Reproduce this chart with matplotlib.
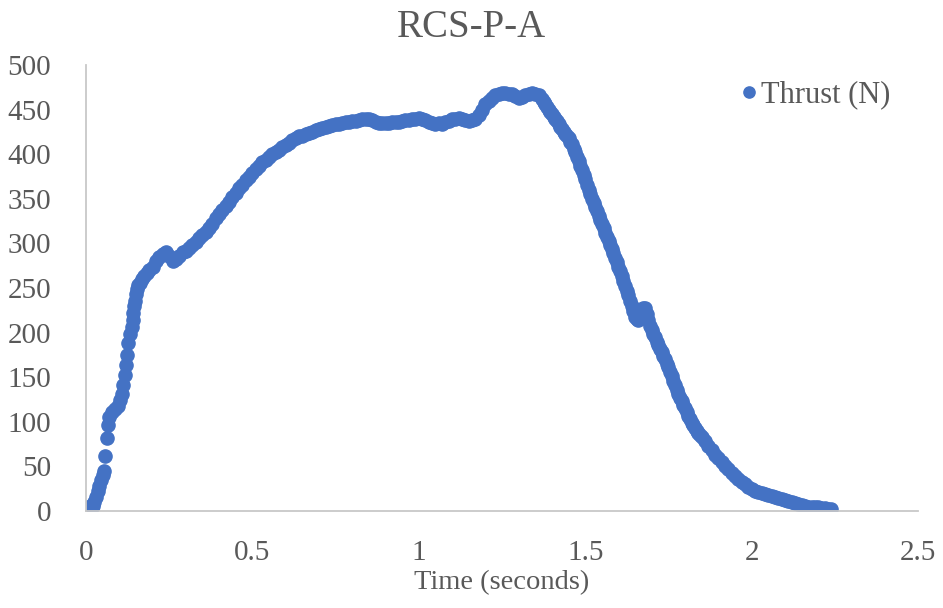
import numpy as np
import matplotlib
matplotlib.use('Agg')
import matplotlib.pyplot as plt
from matplotlib.ticker import FuncFormatter, MultipleLocator

# 読み取ったデータ (時間 [s], 推力 [N])
time_s = [
    0.000, 0.005, 0.010, 0.015, 0.020, 0.025, 0.030, 0.035, 0.040, 0.045,
    0.050, 0.055, 0.058, 0.064, 0.067, 0.070, 0.078, 0.088, 0.095, 0.102,
    0.107, 0.112, 0.117, 0.120, 0.123, 0.127, 0.132, 0.137, 0.140, 0.142,
    0.145, 0.147, 0.150, 0.153, 0.157, 0.162, 0.168, 0.175, 0.183, 0.190,
    0.20, 0.21, 0.22, 0.23, 0.24, 0.25, 0.26, 0.27, 0.28, 0.29,
    0.30, 0.31, 0.32, 0.33, 0.34, 0.35, 0.36, 0.37, 0.38, 0.39,
    0.40, 0.41, 0.42, 0.43, 0.44, 0.45, 0.46, 0.47, 0.48, 0.49,
    0.50, 0.51, 0.52, 0.53, 0.54, 0.55, 0.56, 0.57, 0.58, 0.59,
    0.60, 0.61, 0.62, 0.63, 0.64, 0.65, 0.66, 0.67, 0.68, 0.69,
    0.70, 0.71, 0.72, 0.73, 0.74, 0.75, 0.76, 0.77, 0.78, 0.79,
    0.80, 0.81, 0.82, 0.83, 0.84, 0.85, 0.86, 0.87, 0.88, 0.89,
    0.90, 0.91, 0.92, 0.93, 0.94, 0.95, 0.96, 0.97, 0.98, 0.99,
    1.00, 1.01, 1.02, 1.03, 1.04, 1.05, 1.06, 1.07, 1.08, 1.09,
    1.10, 1.11, 1.12, 1.13, 1.14, 1.15, 1.16, 1.17, 1.18, 1.19,
    1.20, 1.21, 1.22, 1.23, 1.24, 1.25, 1.26, 1.27, 1.28, 1.29,
    1.30, 1.31, 1.32, 1.33, 1.34, 1.35, 1.36, 1.37, 1.38, 1.39,
    1.40, 1.41, 1.42, 1.43, 1.44, 1.45, 1.46, 1.47, 1.48, 1.49,
    1.50, 1.51, 1.52, 1.53, 1.54, 1.55, 1.56, 1.57, 1.58, 1.59,
    1.60, 1.61, 1.62, 1.63, 1.64, 1.65, 1.66, 1.67, 1.68, 1.69,
    1.70, 1.71, 1.72, 1.73, 1.74, 1.75, 1.76, 1.77, 1.78, 1.79,
    1.80, 1.81, 1.82, 1.83, 1.84, 1.85, 1.86, 1.87, 1.88, 1.89,
    1.90, 1.91, 1.92, 1.93, 1.94, 1.95, 1.96, 1.97, 1.98, 1.99,
    2.00, 2.01, 2.02, 2.03, 2.04, 2.05, 2.06, 2.07, 2.08, 2.09,
    2.10, 2.11, 2.12, 2.13, 2.14, 2.15, 2.16, 2.17, 2.18, 2.19,
    2.20, 2.21, 2.22, 2.23, 2.24,
]
thrust_n = [
    3, 4, 4, 5, 6, 10, 16, 22, 28, 35,
    40, 45, 62, 82, 96, 105, 111, 114, 118, 124,
    131, 141, 152, 164, 175, 188, 198, 206, 214, 222,
    230, 236, 243, 249, 253, 256, 260, 263, 267, 270,
    274, 280, 285, 288, 290, 286, 280, 282, 286, 290,
    292, 295, 298, 302, 306, 310, 313, 317, 322, 328,
    333, 338, 342, 347, 352, 357, 362, 366, 371, 375,
    379, 383, 387, 391, 394, 397, 400, 403, 405, 408,
    410, 413, 416, 418, 420, 421, 423, 424, 425, 427,
    428, 429, 431, 432, 433, 434, 434, 435, 436, 436,
    437, 437, 438, 439, 440, 440, 438, 436, 435, 435,
    435, 435, 436, 436, 436, 437, 438, 438, 439, 440,
    441, 440, 438, 436, 435, 434, 435, 434, 436, 437,
    439, 440, 441, 440, 438, 437, 438, 440, 444, 450,
    456, 460, 463, 466, 468, 469, 469, 468, 467, 465,
    463, 464, 466, 468, 469, 468, 466, 462, 456, 450,
    445, 440, 434, 428, 423, 418, 411, 402, 392, 382,
    372, 360, 350, 341, 331, 322, 312, 303, 294, 284,
    274, 264, 252, 242, 230, 218, 214, 225, 228, 214,
    203, 195, 186, 178, 170, 161, 151, 141, 131, 123,
    115, 107, 99, 93, 88, 83, 78, 73, 68, 63,
    59, 55, 51, 47, 43, 39, 36, 33, 30, 27,
    25, 23, 21, 20, 19, 18, 17, 16, 15, 14,
    12, 11, 10, 9, 8, 7, 6, 5, 5, 4,
    4, 3, 3, 2, 2,
]

# 下降区間の追加サンプル (急勾配部分)
fall_time_s = [
    1.375, 1.385, 1.395, 1.405, 1.415, 1.425, 1.435, 1.445, 1.455, 1.465,
    1.475, 1.485, 1.495, 1.505, 1.515, 1.525, 1.535, 1.545, 1.555, 1.565,
    1.575, 1.585, 1.595, 1.605, 1.615, 1.625, 1.635, 1.645, 1.655, 1.665,
    1.675, 1.685, 1.695, 1.705, 1.715, 1.725, 1.735, 1.745, 1.755, 1.765,
    1.775, 1.785, 1.795, 1.805, 1.815, 1.825, 1.835, 1.845,
]
fall_thrust_n = [
    459, 453, 447, 442, 437, 431, 425, 420, 414, 406,
    397, 387, 377, 366, 355, 345, 336, 326, 317, 307,
    298, 289, 279, 269, 258, 247, 236, 224, 215, 220,
    228, 221, 208, 199, 190, 182, 174, 165, 156, 146,
    136, 127, 119, 111, 103, 96, 90, 85,
]

plt.rcParams['font.family'] = ['Liberation Serif', 'DejaVu Serif']
text_color = '#595959'
dot_color = '#4472C4'

fig = plt.figure(figsize=(9.43, 6.08), dpi=100)
ax = fig.add_axes([0.0912, 0.1595, 0.8823, 0.7335])

all_t = time_s + fall_time_s
all_f = thrust_n + fall_thrust_n
ax.plot(all_t, all_f, linestyle='none', marker='o', markersize=9.5,
        color=dot_color, label='Thrust (N)')

ax.set_xlim(0, 2.5)
ax.set_ylim(0, 500)
ax.xaxis.set_major_locator(MultipleLocator(0.5))
ax.yaxis.set_major_locator(MultipleLocator(50))
ax.xaxis.set_major_formatter(FuncFormatter(lambda v, p: f'{v:g}'))

for side in ['top', 'right']:
    ax.spines[side].set_visible(False)
for side in ['left', 'bottom']:
    ax.spines[side].set_color('#C8C8C8')
    ax.spines[side].set_linewidth(1.3)

ax.tick_params(axis='both', length=0, labelsize=21, labelcolor=text_color)
ax.tick_params(axis='y', pad=25)
ax.tick_params(axis='x', pad=21)

ax.set_xlabel('Time (seconds)', fontsize=20.5, color=text_color, labelpad=3)
fig.suptitle('RCS-P-A', fontsize=28, color=text_color, y=0.985, va='top')

ax.legend(loc='upper left', bbox_to_anchor=(0.775, 0.868), bbox_transform=fig.transFigure,
          frameon=False, fontsize=22, labelcolor=text_color, handletextpad=-0.2,
          handlelength=1.2, markerscale=0.85, borderaxespad=0, borderpad=0)

fig.savefig('out.png', dpi=100)
